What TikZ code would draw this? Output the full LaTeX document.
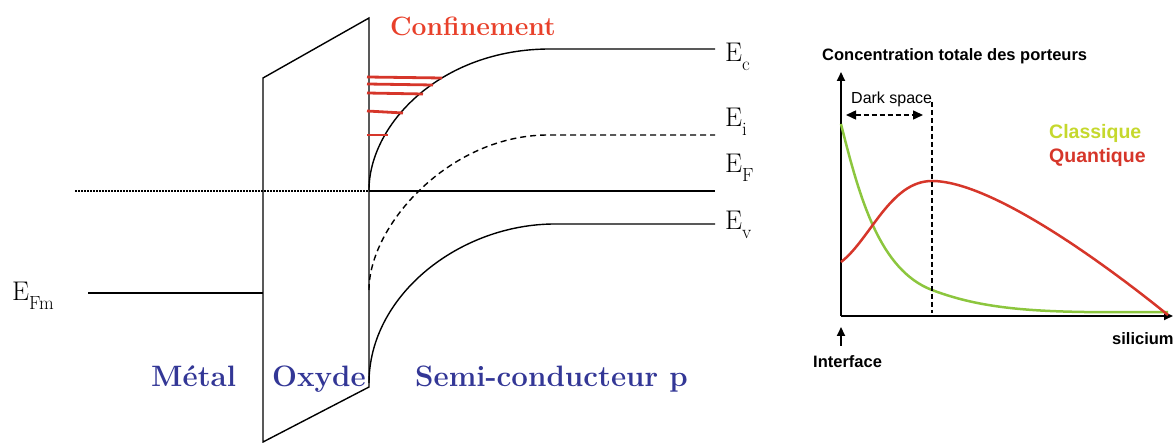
\documentclass[tikz,border=0pt]{standalone}
\usepackage{fontspec}
\usepackage{xcolor}
\usetikzlibrary{arrows.meta}
\newfontfamily\arialfont{Liberation Sans}
\definecolor{bleuZone}{RGB}{51,55,150}
\definecolor{rougeConf}{RGB}{232,64,42}
\definecolor{rougeQ}{RGB}{214,54,42}
\definecolor{vertC}{RGB}{140,198,62}
\definecolor{vertTxt}{RGB}{197,216,45}
\newcommand{\niveau}[1]{E\raisebox{-0.32em}{\fontsize{19}{19}\selectfont #1}}

\begin{document}
\begin{tikzpicture}[x=1pt,y=-1pt,
  bande/.style={line width=1.4pt},
  zone/.style={font=\fontsize{29.5}{32}\selectfont\bfseries,text=bleuZone,anchor=base west,inner sep=0pt},
  niv/.style={font=\fontsize{27}{30}\selectfont,anchor=base west,inner sep=0pt},
  etat/.style={rougeQ,line width=2.8pt},
  axe/.style={line width=1.8pt,-{Triangle[length=9pt,width=8pt]}},
  sans/.style={font=\arialfont\bfseries\fontsize{16.5}{18}\selectfont,anchor=base west,inner sep=0pt}]
\useasboundingbox (0,0) rectangle (1175,443);
% diagramme de bandes
\draw[bande] (263,78) -- (369,18) -- (369,387) -- (263,442) -- cycle;
\coordinate (EFgauche) at (75,191);
\coordinate (paroi) at (369,191);
\draw[bande,dash pattern=on 1.5pt off 1.5pt] (EFgauche) -- (paroi);
\draw[bande] (paroi) -- (715,191);
\draw[bande] (88,293) -- (263,293);
\draw[bande] (369,190) .. controls (369,125) and (440,49) .. (550,49) -- (715,49);
\draw[bande,dash pattern=on 6pt off 4pt] (369,290) .. controls (369,225) and (450,135) .. (548,135) -- (715,135);
\draw[bande] (369,383) .. controls (369,295) and (460,224) .. (555,224) -- (715,224);
% niveaux confines
\draw[etat] (367,77) -- (442,78);
\draw[etat] (367,84) -- (433,85);
\draw[etat] (367,93) -- (423,94);
\draw[etat] (367,111) -- (403,113);
\draw[etat] (367,135) -- (388,135);
\node[font=\fontsize{26.5}{28}\selectfont\bfseries,text=rougeConf,anchor=base west,inner sep=0pt] (conf) at (390,36) {Confinement};
\node[niv] (Ec) at (725,62) {\niveau{c}};
\node[niv] (Ei) at (725,127) {\niveau{i}};
\node[niv] (EF) at (725,173) {\niveau{F}};
\node[niv] (Ev) at (725,230) {\niveau{v}};
\node[niv] (EFm) at (12,301) {\niveau{Fm}};
\node[zone] (metal) at (151,386) {Métal};
\node[zone] (oxyde) at (272,386) {Oxyde};
\node[zone] (sc) at (415,386) {Semi-conducteur p};
% concentration des porteurs
\coordinate (O) at (841,316);
\coordinate (Oy) at (841,72);
\coordinate (Ox) at (1173,316);
\draw[axe] (O) -- (Oy);
\draw[axe] (O) -- (Ox);
\draw[line width=2.5pt,vertC] (841,124) .. controls (860,200) and (880,270) .. (932,290)
  .. controls (990,312) and (1050,313) .. (1168,312);
\draw[line width=2.5pt,rougeQ] (841,262) .. controls (870,240) and (890,181) .. (932,181)
  .. controls (990,181) and (1100,260) .. (1168,315);
\draw[line width=1.3pt,dash pattern=on 5pt off 3pt] (932,102) -- (932,313);
\coordinate (darkA) at (846,115);
\coordinate (darkB) at (923,115);
\draw[line width=1.5pt,dash pattern=on 5pt off 3pt,{Triangle[length=10pt,width=9pt]}-{Triangle[length=10pt,width=9pt]}] (darkA) -- (darkB);
\node[sans] (titre) at (822,61) {Concentration totale des porteurs};
\node[sans,font=\arialfont\fontsize{16}{18}\selectfont] (dark) at (851,104) {Dark space};
\node[sans,font=\arialfont\bfseries\fontsize{19.5}{21}\selectfont,text=vertTxt] (classique) at (1049,139) {Classique};
\node[sans,font=\arialfont\bfseries\fontsize{19.5}{21}\selectfont,text=rougeQ] (quantique) at (1049,163) {Quantique};
\node[sans] (silicium) at (1112,345) {silicium};
\node[sans] (interface) at (813,367) {Interface};
\coordinate (flecheI) at (841,346);
\draw[axe] (flecheI) -- (841,327);
\end{tikzpicture}
\end{document}
